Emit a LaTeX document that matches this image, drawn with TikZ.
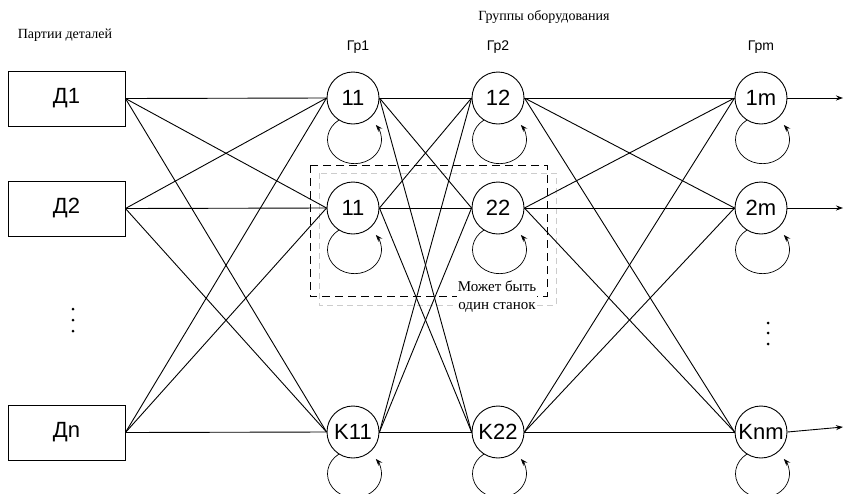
\documentclass[tikz,border=0pt]{standalone}
\usepackage{fontspec}
\setmainfont{Liberation Sans}
\newfontfamily\serifcyr{Liberation Serif}
\usetikzlibrary{arrows.meta}
\begin{document}
\begin{tikzpicture}[x=1pt,y=1pt,
  line width=0.9pt,
  boxnode/.style={draw,minimum width=117pt,minimum height=55pt,inner sep=0pt,font=\fontsize{22}{24}\selectfont},
  mach/.style={draw,circle,minimum size=52pt,inner sep=0pt,font=\fontsize{22}{24}\selectfont},
  hdr/.style={font=\fontsize{14}{16}\selectfont},
  serhdr/.style={font=\serifcyr\fontsize{14}{16}\selectfont},
  tip/.style={-{Stealth[length=7pt,width=5pt]}},
  dot/.style={circle,fill,inner sep=0pt,minimum size=3pt}
]
\useasboundingbox (0,0) rectangle (845,-493);

% headers
\node[serhdr] (hp) at (65,-35) {Партии деталей};
\node[serhdr] (hg) at (544,-17) {Группы оборудования};
\node[hdr] (g1) at (358,-47) {Гр1};
\node[hdr] (g2) at (498,-47) {Гр2};
\node[hdr] (gm) at (761,-47) {Грm};

% dashed frames
\draw[gray!40,line width=0.9pt,dash pattern=on 6pt off 4pt] (319,-173) rectangle (556,-305);
\draw[line width=0.9pt,dash pattern=on 8pt off 5pt] (310,-165) rectangle (547,-296);

% part boxes
\node[boxnode] (d1) at (66.5,-98.5) {Д1};
\node[boxnode] (d2) at (66.5,-208.5) {Д2};
\node[boxnode] (dn) at (66.5,-432.5) {Дn};

% machines
\node[mach] (a1) at (353,-98) {11};
\node[mach] (a2) at (353,-208) {11};
\node[mach] (ak) at (353,-432) {K11};
\node[mach] (b1) at (498,-98) {12};
\node[mach] (b2) at (498,-208) {22};
\node[mach] (bk) at (498,-432) {K22};
\node[mach] (m1) at (761,-98) {1m};
\node[mach] (m2) at (761,-208) {2m};
\node[mach] (mk) at (761,-432) {Knm};

% connections
\foreach \s in {d1,d2,dn}{\foreach \t in {a1,a2,ak}{\draw (\s.east) -- (\t.west);}}
\foreach \s in {a1,a2,ak}{\foreach \t in {b1,b2,bk}{\draw (\s.east) -- (\t.west);}}
\foreach \s in {b1,b2,bk}{\foreach \t in {m1,m2,mk}{\draw (\s.east) -- (\t.west);}}

% self loops
\foreach \n in {a1,a2,ak,b1,b2,bk,m1,m2,mk}{
  \draw[tip,line width=0.7pt] ([shift={(-14pt,-22pt)}]\n.center)
    arc[start angle=125,end angle=398,x radius=27pt,y radius=24pt];
}

% outputs
\coordinate (o1) at (843,-98);
\coordinate (o2) at (843,-208);
\coordinate (ok) at (843,-427);
\draw[tip] (m1.east) -- (o1);
\draw[tip] (m2.east) -- (o2);
\draw[tip] (mk.east) -- (ok);

% ellipsis dots
\node[dot] (l1) at (73,-309) {};
\node[dot] (l2) at (73,-320) {};
\node[dot] (l3) at (73,-331) {};
\node[dot] (r1) at (768,-323) {};
\node[dot] (r2) at (768,-333) {};
\node[dot] (r3) at (768,-344) {};

% note
\node[font=\serifcyr\fontsize{15}{18}\selectfont,align=center,fill=white,inner sep=1pt] (note) at (497,-297) {Может быть\\один станок};
\end{tikzpicture}
\end{document}
